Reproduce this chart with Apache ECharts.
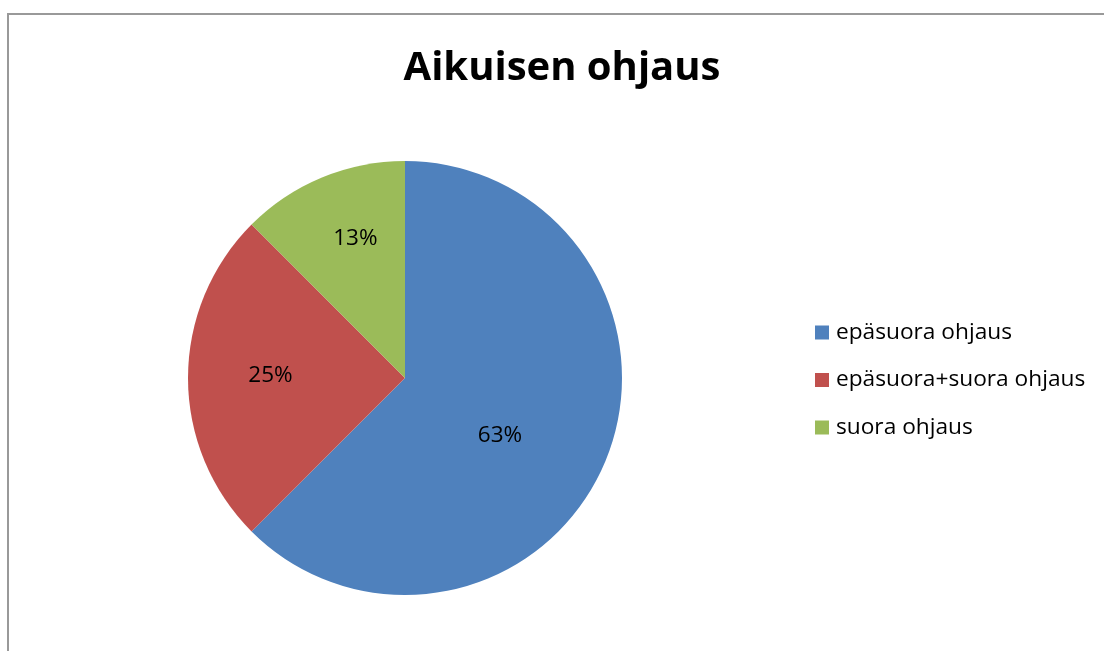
<!DOCTYPE html>
<html>
<head>
<meta charset="utf-8">
<script src="https://cdn.jsdelivr.net/npm/echarts@6/dist/echarts.min.js"></script>
<style>
  html, body { margin: 0; padding: 0; background: #fff; }
  #chart { width: 1104px; height: 651px; }
</style>
</head>
<body>
<div id="chart"></div>
<script type="text/javascript">

var categories = ['epäsuora ohjaus', 'epäsuora+suora ohjaus', 'suora ohjaus'];
var values = [62.5, 25, 12.5];
var colors = ['#4F81BD', '#C0504D', '#9BBB59'];

var font = 'Open Sans';

// small nudges so the inside labels sit where the original program put them
var labelShift = [[-8, 15], [-23, -2], [-7, -36]];

var option = {
    animation: false,
    color: colors,
    title: {
        text: 'Aikuisen ohjaus',
        left: 557,
        top: 44,
        textAlign: 'center',
        textStyle: {
            fontFamily: font,
            fontWeight: 'bold',
            fontSize: 40,
            color: '#000'
        }
    },
    legend: {
        orient: 'vertical',
        left: 810,
        top: 316,
        icon: 'rect',
        itemWidth: 14,
        itemHeight: 14,
        itemGap: 24.5,
        textStyle: {
            fontFamily: font,
            fontSize: 22.7,
            color: '#000',
            padding: [0, 0, 0, 2]
        },
        data: categories
    },
    graphic: [{
        type: 'rect',
        shape: { x: 8, y: 14, width: 1200, height: 700 },
        style: { fill: 'none', stroke: '#999', lineWidth: 2 },
        silent: true
    }],
    series: [{
        type: 'pie',
        center: [405, 378],
        radius: 217,
        startAngle: 90,
        clockwise: true,
        label: {
            show: true,
            position: 'inside',
            fontFamily: font,
            fontSize: 22.5,
            color: '#000',
            formatter: function (p) { return Math.round(p.percent) + '%'; }
        },
        labelLayout: function (p) {
            var s = labelShift[p.dataIndex];
            return { dx: s[0], dy: s[1] };
        },
        labelLine: { show: false },
        itemStyle: { borderWidth: 0 },
        emphasis: { disabled: true },
        data: categories.map(function (c, i) {
            return { name: c, value: values[i] };
        })
    }]
};

var chart = echarts.init(document.getElementById('chart'));
chart.setOption(option);
</script>
</body>
</html>
